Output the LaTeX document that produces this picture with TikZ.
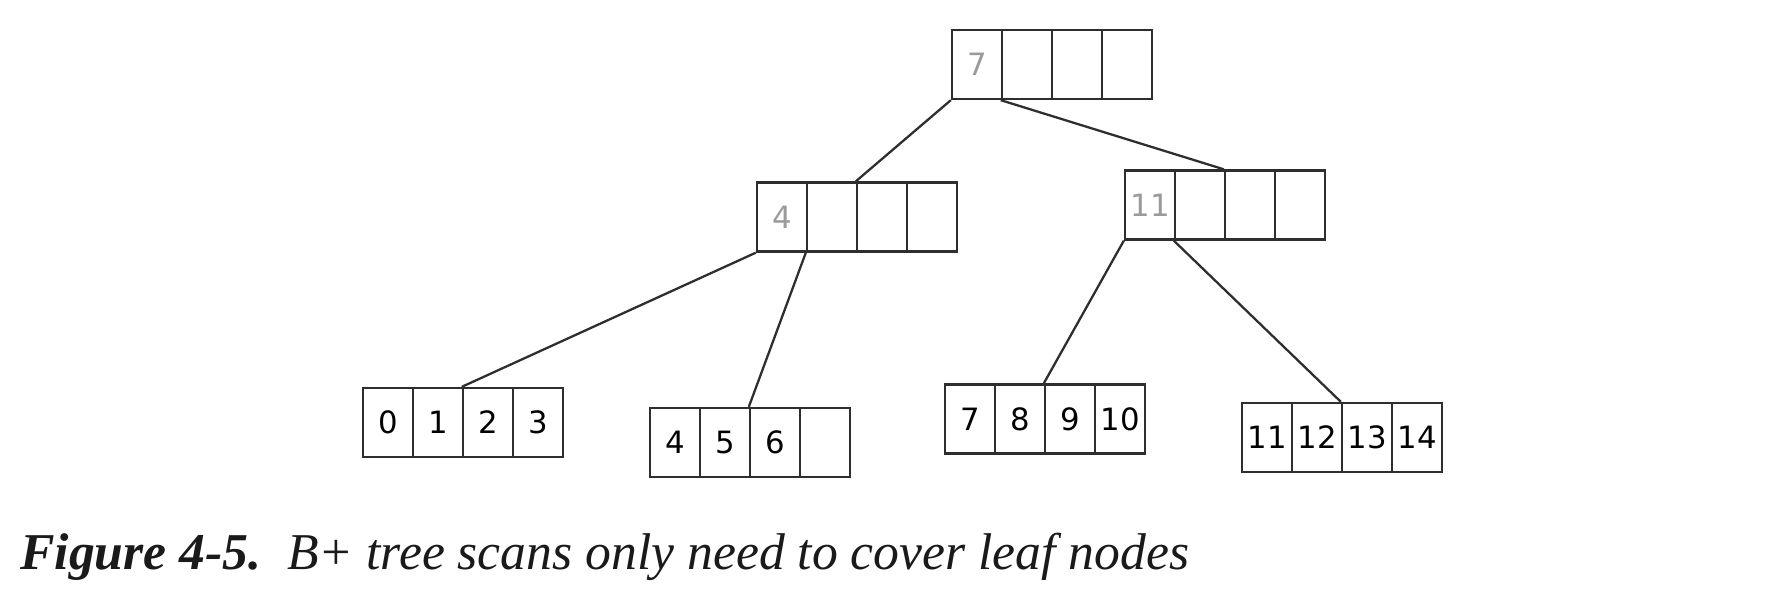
\documentclass[tikz,border=0pt]{standalone}
\usepackage{fontspec}
\setmainfont{Liberation Serif}
\newfontfamily\keyfont{DejaVu Sans}
\usetikzlibrary{positioning}
\definecolor{edgegray}{HTML}{2E2E2E}
\definecolor{keygray}{HTML}{9A9A9A}
\definecolor{captiongray}{HTML}{1A1A1A}

\begin{document}
\begin{tikzpicture}[x=0.02cm,y=-0.02cm,
    cell/.style={draw=edgegray, line width=1.35pt, minimum width=1cm,
      minimum height=1.38cm, inner sep=0pt,
      font=\keyfont\fontsize{17.5}{20}\selectfont},
    inner key/.style={cell, text=keygray},
    leaf key/.style={cell, text=black},
    link/.style={draw=edgegray, line width=1.3pt}]
  \useasboundingbox (0,0) rectangle (1766,592);

  % Root
  \foreach \k [count=\i] in {7,{},{},{}}
    \node[inner key] (r\i) at ({977+(\i-1)*50}, 64.5) {\k};

  % Inner nodes
  \foreach \k [count=\i] in {4,{},{},{}}
    \node[inner key] (a\i) at ({782+(\i-1)*50}, 217) {\k};
  \foreach \k [count=\i] in {11,{},{},{}}
    \node[inner key] (b\i) at ({1150+(\i-1)*50}, 205) {\k};

  % Leaves
  \foreach \k [count=\i] in {0,1,2,3}
    \node[leaf key] (la\i) at ({388+(\i-1)*50}, 422.5) {\k};
  \foreach \k [count=\i] in {4,5,6,{}}
    \node[leaf key] (lb\i) at ({675+(\i-1)*50}, 442.5) {\k};
  \foreach \k [count=\i] in {7,8,9,10}
    \node[leaf key] (lc\i) at ({970+(\i-1)*50}, 419) {\k};
  \foreach \k [count=\i] in {11,12,13,14}
    \node[leaf key] (ld\i) at ({1267+(\i-1)*50}, 437.5) {\k};

  % Pointers
  \draw[link] (r1.south west) -- (a3.north west);
  \draw[link] (r2.south west) -- (b3.north west);
  \draw[link] (a1.south west) -- (la3.north west);
  \draw[link] (a2.south west) -- (lb3.north west);
  \draw[link] (b1.south west) -- (lc3.north west);
  \draw[link] (b2.south west) -- (ld3.north west);

  % Caption
  \node[anchor=base west, inner sep=0pt, text=captiongray,
    font=\fontsize{29.4}{34}\selectfont] (caption) at (20,569)
    {\textbf{\textit{Figure 4-5.}}\hspace{0.5em}\textit{B+ tree scans only need to cover leaf nodes}};
\end{tikzpicture}
\end{document}
